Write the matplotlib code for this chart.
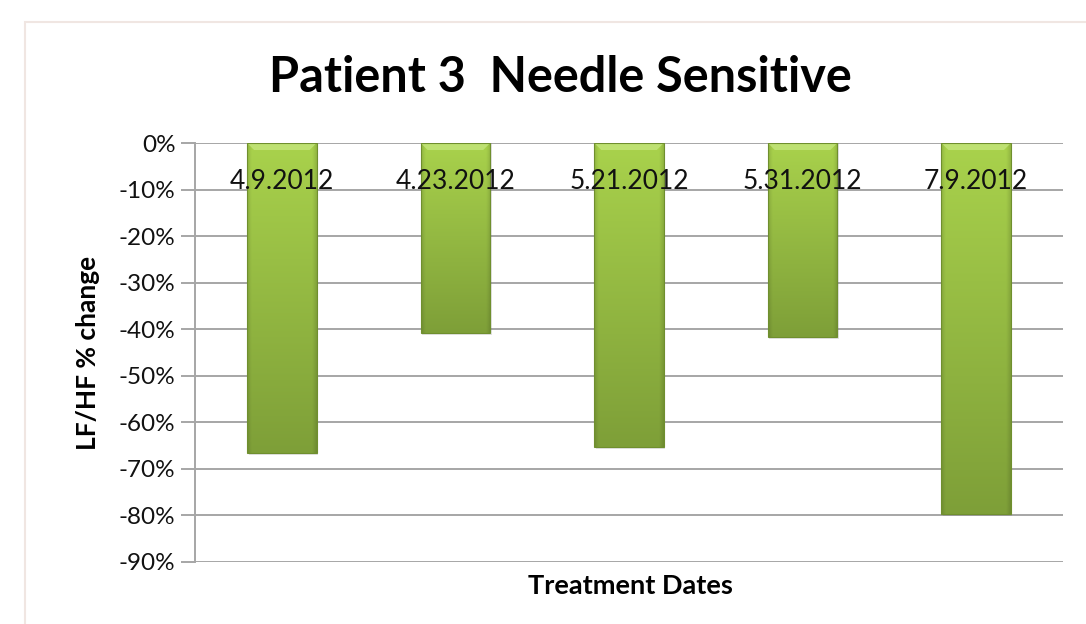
import numpy as np
import matplotlib
matplotlib.use("Agg")
import matplotlib.pyplot as plt
from matplotlib.patches import Rectangle, Polygon
from matplotlib.colors import to_rgb
from matplotlib.ticker import FuncFormatter, MultipleLocator

# ---------------------------------------------------------------------------
# Data
# ---------------------------------------------------------------------------
dates = ["4.9.2012", "4.23.2012", "5.21.2012", "5.31.2012", "7.9.2012"]
lfhf_change = [-66.5, -40.8, -65.3, -41.7, -79.6]

title = "Patient 3  Needle Sensitive"
xlabel = "Treatment Dates"
ylabel = "LF/HF % change"

plt.rcParams["font.family"] = ["Lato", "DejaVu Sans"]

# ---------------------------------------------------------------------------
# Figure layout
# ---------------------------------------------------------------------------
fig = plt.figure(figsize=(10.86, 6.24), dpi=100)
ax = fig.add_axes([0.1796, 0.0994, 0.7992, 0.6714])

# faint chart-area border
fig.patches.append(Rectangle((25 / 1086, -0.1), 1.2, 1 - 22 / 624 + 0.1,
                             transform=fig.transFigure, fill=False,
                             edgecolor="#f0e6e2", linewidth=1.5, zorder=0))

x = np.arange(len(dates))
width = 0.40
bars = ax.bar(x, lfhf_change, width=width, color="none", edgecolor="none",
              zorder=3)


def bar_gradient(n_rows=200, n_cols=60):
    """Vertical green ramp with slightly darker side edges."""
    top = np.array(to_rgb("#a9d24c"))
    bot = np.array(to_rgb("#7e9f38"))
    t = np.linspace(0, 1, n_rows)[:, None]
    col = top + (bot - top) * t
    img = np.repeat(col[:, None, :], n_cols, axis=1).reshape(n_rows, n_cols, 3)
    u = np.linspace(-1, 1, n_cols)
    edge = 1 - 0.12 * np.clip((np.abs(u) - 0.88) / 0.12, 0, 1)
    img = img * edge[None, :, None]
    return np.clip(img, 0, 1)


bevel_h = 1.5   # in % units
bevel_dx = 0.04
for rect in bars:
    x0, w = rect.get_x(), rect.get_width()
    h = rect.get_height()
    # soft shadow under the bar
    ax.add_patch(Rectangle((x0 + 0.008, h - 0.5), w, -h + 0.5,
                           facecolor="#707070", alpha=0.2, edgecolor="none",
                           zorder=2))
    im = ax.imshow(bar_gradient(), extent=(x0, x0 + w, h, 0), aspect="auto",
                   interpolation="bilinear", zorder=3)
    im.set_clip_path(rect)
    # bevelled top edge
    ax.add_patch(Polygon([(x0, 0), (x0 + w, 0), (x0 + w - bevel_dx, -bevel_h),
                          (x0 + bevel_dx, -bevel_h)], closed=True,
                         facecolor="#c2e57a", edgecolor="none", alpha=0.85,
                         zorder=4))
    ax.add_patch(Rectangle((x0, 0), w, h, fill=False, edgecolor="#6f8f2e",
                           linewidth=0.8, zorder=4))

# ---------------------------------------------------------------------------
# Axes styling
# ---------------------------------------------------------------------------
ax.set_xlim(-0.5, len(dates) - 0.5)
ax.set_ylim(-90, 0)
ax.yaxis.set_major_locator(MultipleLocator(10))
ax.yaxis.set_major_formatter(FuncFormatter(lambda v, _: f"{v:.0f}%"))
ax.grid(axis="y", color="#a6a6a6", linewidth=1.4, zorder=0)
ax.set_axisbelow(True)

for side in ("top", "right", "bottom"):
    ax.spines[side].set_visible(False)
ax.spines["left"].set_color("#a6a6a6")
ax.spines["left"].set_linewidth(1.4)

# category labels hang just below the zero line, over the bars
ax.set_xticks([])
for xi, d in zip(x, dates):
    ax.text(xi, -8.2, d, fontsize=19, color="#111111", ha="center",
            va="center", zorder=6)

ax.tick_params(axis="y", length=10, width=1.4, color="#a6a6a6",
               labelsize=17.5, labelcolor="#111111", pad=4)

fig.text(560 / 1086, 1 - 78 / 624, title, fontsize=35, fontweight="bold",
         ha="center", va="center")
fig.text(630 / 1086, 1 - 586 / 624, xlabel, fontsize=19.5, fontweight="bold",
         ha="center", va="center")
fig.text(88 / 1086, 1 - 353 / 624, ylabel, fontsize=19, fontweight="bold",
         ha="center", va="center", rotation=90)

fig.savefig("out.png", dpi=100, facecolor="white")
